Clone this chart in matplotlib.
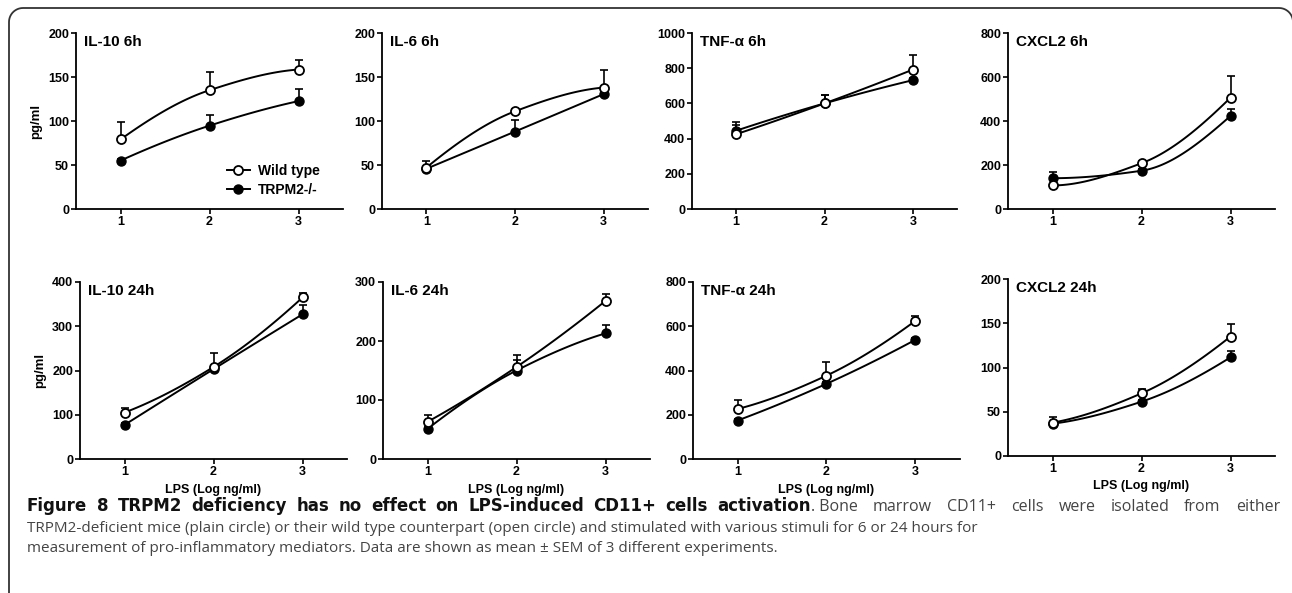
import numpy as np
import matplotlib
matplotlib.use("Agg")
import matplotlib.pyplot as plt
from matplotlib.lines import Line2D

W, H = 1292, 593

# LPS dose (log ng/ml)
conc = [1, 2, 3]

titles = ["IL-10 6h", "IL-6 6h", "TNF-\u03b1 6h", "CXCL2 6h",
          "IL-10 24h", "IL-6 24h", "TNF-\u03b1 24h", "CXCL2 24h"]
ymax = [200, 200, 1000, 800, 400, 300, 800, 200]
ystep = [50, 50, 200, 200, 100, 100, 200, 50]

# wild type: mean and SEM
wt_mean = [[79, 135, 158.5], [47, 111, 138], [425, 600, 792], [107, 208, 506],
           [105, 208, 365], [63, 156, 268], [226, 377, 625], [37.7, 70.8, 135]]
wt_sem = [[19.5, 21, 10.5], [7, 3, 20], [71, 50, 85], [8, 8, 98],
          [11, 31, 11], [12, 21, 11], [41, 61, 23], [6.7, 4.5, 14]]
# TRPM2-/-: mean and SEM
ko_mean = [[55, 94.7, 122.6], [45.7, 88, 130.6], [445, 600, 732], [140, 174, 423],
           [77, 203, 327], [51, 150, 213], [174, 340, 539], [36.5, 61.4, 111.5]]
ko_sem = [[2, 12, 13.5], [2, 13, 3], [32, 45, 15], [30, 8, 30],
          [5, 5, 20], [3, 17, 14], [8, 8, 8], [2, 2, 7]]

cap_bold = 'Figure 8 TRPM2 deficiency has no effect on LPS-induced CD11+ cells activation'
cap_rest = '. Bone marrow CD11+ cells were isolated from either'
cap_line2 = ('TRPM2-deficient mice (plain circle) or their wild type counterpart (open circle) '
             'and stimulated with various stimuli for 6 or 24 hours for')
cap_line3 = ('measurement of pro-inflammatory mediators. Data are shown as mean \u00b1 SEM '
             'of 3 different experiments.')

# axes boxes in pixels: left, right, top, bottom
boxes = [(76, 343, 33, 209), (382, 648, 33, 209), (692, 957, 33, 209), (1008, 1275, 33, 209),
         (80, 347, 282, 459), (383, 650, 282, 459), (693, 960, 282, 459), (1008, 1275, 279, 456)]

plt.rcParams['font.family'] = ['Liberation Sans', 'DejaVu Sans']
plt.rcParams['font.weight'] = 'bold'
plt.rcParams['axes.labelweight'] = 'bold'


def pchip(x, y, xs):
    # monotone cubic through the points (Fritsch-Carlson)
    x = np.asarray(x, float); y = np.asarray(y, float)
    h = np.diff(x); d = np.diff(y) / h
    m = np.zeros_like(y)
    for k in range(1, len(x) - 1):
        if d[k-1] * d[k] > 0:
            m[k] = 2 / (1 / d[k-1] + 1 / d[k])
    m0 = ((2*h[0] + h[1]) * d[0] - h[0] * d[1]) / (h[0] + h[1])
    if np.sign(m0) != np.sign(d[0]):
        m0 = 0
    elif np.sign(d[0]) != np.sign(d[1]) and abs(m0) > abs(3*d[0]):
        m0 = 3*d[0]
    mn = ((2*h[-1] + h[-2]) * d[-1] - h[-1] * d[-2]) / (h[-1] + h[-2])
    if np.sign(mn) != np.sign(d[-1]):
        mn = 0
    elif np.sign(d[-1]) != np.sign(d[-2]) and abs(mn) > abs(3*d[-1]):
        mn = 3*d[-1]
    m[0], m[-1] = m0, mn
    out = np.empty_like(xs)
    for i, xv in enumerate(xs):
        k = min(np.searchsorted(x, xv, side='right') - 1, len(x) - 2)
        t = (xv - x[k]) / h[k]
        h00 = 2*t**3 - 3*t**2 + 1; h10 = t**3 - 2*t**2 + t
        h01 = -2*t**3 + 3*t**2; h11 = t**3 - t**2
        out[i] = h00*y[k] + h10*h[k]*m[k] + h01*y[k+1] + h11*h[k]*m[k+1]
    return out


fig = plt.figure(figsize=(W/100, H/100), dpi=100)
xs = np.linspace(1, 3, 100)

for i in range(8):
    l, r, t, b = boxes[i]
    ax = fig.add_axes([l/W, 1 - b/H, (r - l)/W, (b - t)/H])
    for s in ['top', 'right']:
        ax.spines[s].set_visible(False)
    for s in ['left', 'bottom']:
        ax.spines[s].set_linewidth(1.3)
    ax.set_xlim(0.5, 3.5)
    ax.set_ylim(0, ymax[i])
    ax.set_xticks(conc)
    ax.set_yticks(np.arange(0, ymax[i] + 1, ystep[i]))
    ax.tick_params(width=1.2, length=3.5, pad=1.5, labelsize=9)

    ax.plot(xs, pchip(conc, wt_mean[i], xs), color='black', lw=1.4, zorder=2)
    ax.plot(xs, pchip(conc, ko_mean[i], xs), color='black', lw=1.4, zorder=2)
    ax.errorbar(conc, wt_mean[i], yerr=[np.zeros(3), wt_sem[i]], fmt='none',
                ecolor='black', elinewidth=1.2, capsize=3, capthick=1.2, zorder=3)
    ax.errorbar(conc, ko_mean[i], yerr=[np.zeros(3), ko_sem[i]], fmt='none',
                ecolor='black', elinewidth=1.2, capsize=3, capthick=1.2, zorder=3)
    ax.plot(conc, ko_mean[i], 'o', ms=6.5, mfc='black', mec='black', zorder=4,
            clip_on=False)
    ax.plot(conc, wt_mean[i], 'o', ms=6.5, mfc='white', mec='black', mew=1.3,
            zorder=5, clip_on=False)

    ax.text(0.03, 0.95, titles[i], transform=ax.transAxes, fontsize=11,
            fontweight='bold', va='center', ha='left')
    if i % 4 == 0:
        ax.set_ylabel('pg/ml', fontsize=9.5, labelpad=4)
    if i >= 4:
        ax.set_xlabel('LPS (Log ng/ml)', fontsize=9, labelpad=4)
    if i == 0:
        handles = [Line2D([], [], color='black', lw=1.4, marker='o', ms=6.5,
                          mfc='white', mec='black', mew=1.3),
                   Line2D([], [], color='black', lw=1.4, marker='o', ms=6.5,
                          mfc='black', mec='black')]
        ax.legend(handles, ['Wild type', 'TRPM2-/-'], loc='lower left',
                  bbox_to_anchor=(0.52, 0.0), frameon=False,
                  handlelength=1.6, handletextpad=0.6, labelspacing=0.3,
                  prop={'weight': 'bold', 'size': 10})

# rounded frame round the figure
r = 14
pts = [(9, H + 5), (9, 8 + r)]
for a in np.linspace(np.pi, np.pi/2, 12):
    pts.append((9 + r + r*np.cos(a), 8 + r - r*np.sin(a)))
for a in np.linspace(np.pi/2, 0, 12):
    pts.append((1293 - r + r*np.cos(a), 8 + r - r*np.sin(a)))
pts.append((1293, H + 5))
px = [p[0]/W for p in pts]
py = [1 - p[1]/H for p in pts]
fig.add_artist(Line2D(px, py, color='#333333', lw=1.3, transform=fig.transFigure))

# caption; first line justified word by word
cap_font = ['Open Sans', 'DejaVu Sans']
ren = fig.canvas.get_renderer()


def spread(words, family, size, weight, color, xa, xb, ybase):
    txts = [fig.text(0, 1 - ybase/H, w, family=family, fontsize=size,
                     fontweight=weight, color=color, va='baseline', ha='left')
            for w in words]
    widths = [t.get_window_extent(ren).width for t in txts]
    gap = (xb - xa - sum(widths)) / max(len(words) - 1, 1)
    xp = xa
    for k, t in enumerate(txts):
        t.set_x(xp / W)
        xp += widths[k] + gap
    return txts


spread(cap_bold.split(' '), 'DejaVu Sans', 12, 'bold', '#111111', 27, 811, 511)
rest = cap_rest.split(' ')
spread([rest[0] + ' ' + rest[1]] + rest[2:], cap_font, 11.5, 'normal', '#444444',
       811, 1280, 511)

fig.text(27/W, 1 - 528/H, cap_line2, family=cap_font, fontsize=11, fontweight='normal',
         color='#444444', va='center', ha='left')
fig.text(27/W, 1 - 548/H, cap_line3, family=cap_font, fontsize=11, fontweight='normal',
         color='#444444', va='center', ha='left')

fig.savefig('out.png', dpi=100)
